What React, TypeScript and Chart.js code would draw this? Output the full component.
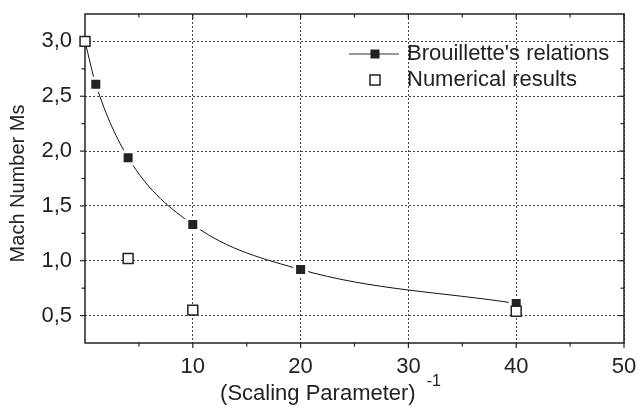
import React, { useEffect, useRef } from 'react';
import { Chart, registerables } from 'chart.js';

Chart.register(...registerables);

const brouilletteX = [0, 1, 4, 10, 20, 40];
const brouilletteY = [3.0, 2.61, 1.94, 1.33, 0.92, 0.61];
const numericalX = [0, 4, 10, 40];
const numericalY = [3.0, 1.02, 0.55, 0.54];

const xTickValues = [10, 20, 30, 40, 50];
const xMinorTickValues = [5, 15, 25, 35, 45];
const yTickValues = [0.5, 1.0, 1.5, 2.0, 2.5, 3.0];
const yMinorTickValues = [0.75, 1.25, 1.75, 2.25, 2.75];

const seriesNames = ["Brouillette's relations", 'Numerical results'];
const xTitle = '(Scaling Parameter)';
const xTitleSup = '-1';
const yTitle = 'Mach Number Ms';

const FONT = '"Liberation Sans", Arial, Helvetica, sans-serif';
const TEXT = '#222';
const AXIS = '#222';
const GRID = '#444';
const MARK = '#222';

const zeroPad = (s: any) => {
  s.paddingTop = 0;
  s.paddingBottom = 0;
  s.paddingLeft = 0;
  s.paddingRight = 0;
};

const framePlugin = {
  id: 'frame',
  beforeDatasetsDraw(chart: any) {
    const { ctx, chartArea: a, scales } = chart;
    const xs = scales.x;
    const ys = scales.y;
    ctx.save();
    ctx.strokeStyle = AXIS;
    ctx.lineWidth = 1.5;
    ctx.setLineDash([]);
    ctx.beginPath();
    ctx.rect(a.left, a.top, a.right - a.left, a.bottom - a.top);
    ctx.stroke();
    ctx.lineWidth = 1.2;
    const seg = (x1: number, y1: number, x2: number, y2: number) => {
      ctx.beginPath();
      ctx.moveTo(x1, y1);
      ctx.lineTo(x2, y2);
      ctx.stroke();
    };
    xTickValues.forEach((v) => {
      const p = xs.getPixelForValue(v);
      seg(p, a.bottom, p, a.bottom + 5);
      seg(p, a.top, p, a.top + 5);
    });
    xMinorTickValues.forEach((v) => {
      const p = xs.getPixelForValue(v);
      seg(p, a.bottom, p, a.bottom + 3.5);
      seg(p, a.top, p, a.top + 3.5);
    });
    yTickValues.forEach((v) => {
      const p = ys.getPixelForValue(v);
      seg(a.left - 5, p, a.left, p);
      seg(a.right - 5, p, a.right, p);
    });
    yMinorTickValues.forEach((v) => {
      const p = ys.getPixelForValue(v);
      seg(a.left - 3.5, p, a.left, p);
      seg(a.right - 3.5, p, a.right, p);
    });
    ctx.restore();
  },
  afterDraw(chart: any) {
    const { ctx, chartArea: a } = chart;
    ctx.save();
    // legend
    const lx = a.right - 249;
    const y1 = a.top + 40;
    const y2 = a.top + 66;
    ctx.strokeStyle = '#333';
    ctx.lineWidth = 1;
    ctx.beginPath();
    ctx.moveTo(a.right - 275, y1);
    ctx.lineTo(a.right - 225, y1);
    ctx.stroke();
    ctx.fillStyle = MARK;
    ctx.fillRect(lx - 4.5, y1 - 4.5, 9, 9);
    ctx.fillStyle = '#fff';
    ctx.fillRect(lx - 5, y2 - 5, 10, 10);
    ctx.strokeStyle = MARK;
    ctx.lineWidth = 1.5;
    ctx.strokeRect(lx - 5, y2 - 5, 10, 10);
    ctx.fillStyle = TEXT;
    ctx.font = `22px ${FONT}`;
    ctx.textAlign = 'left';
    ctx.textBaseline = 'middle';
    ctx.fillText(seriesNames[0], a.right - 217, y1);
    ctx.fillText(seriesNames[1], a.right - 217, y2);
    // x title with superscript
    ctx.textBaseline = 'alphabetic';
    ctx.font = `22px ${FONT}`;
    const w1 = ctx.measureText(xTitle).width;
    ctx.font = `16px ${FONT}`;
    const w2 = ctx.measureText(xTitleSup).width;
    const gap = 11;
    const total = w1 + gap + w2;
    const cx = (a.left + a.right) / 2 - 24;
    const sx = cx - total / 2;
    ctx.font = `22px ${FONT}`;
    ctx.fillText(xTitle, sx, a.bottom + 57);
    ctx.font = `16px ${FONT}`;
    ctx.fillText(xTitleSup, sx + w1 + gap, a.bottom + 43);
    // y title
    ctx.save();
    ctx.translate(18, (a.top + a.bottom) / 2 + 5);
    ctx.rotate(-Math.PI / 2);
    ctx.textAlign = 'center';
    ctx.textBaseline = 'middle';
    ctx.font = `20px ${FONT}`;
    ctx.fillText(yTitle, 0, 0);
    ctx.restore();
    ctx.restore();
  },
};

export default function App() {
  const ref = useRef<HTMLCanvasElement | null>(null);
  useEffect(() => {
    document.body.style.margin = '0';
    const canvas = ref.current;
    if (!canvas) return;
    const chart = new Chart(canvas, {
      type: 'line',
      data: {
        datasets: [
          {
            label: seriesNames[0],
            data: brouilletteX.map((x, i) => ({ x, y: brouilletteY[i] })),
            borderColor: '#111',
            borderWidth: 1,
            cubicInterpolationMode: 'monotone',
            pointStyle: 'rect',
            pointRadius: (c: any) => (c.dataIndex === 0 ? 0 : 8.5),
            pointBackgroundColor: MARK,
            pointBorderColor: '#fff',
            pointBorderWidth: 3,
            clip: false,
            order: 2,
          } as any,
          {
            label: seriesNames[1],
            data: numericalX.map((x, i) => ({ x, y: numericalY[i] })),
            showLine: false,
            pointStyle: 'rect',
            pointRadius: 7,
            pointBackgroundColor: '#fff',
            pointBorderColor: MARK,
            pointBorderWidth: 1.5,
            clip: false,
            order: 1,
          } as any,
        ],
      },
      options: {
        animation: false,
        responsive: true,
        maintainAspectRatio: false,
        layout: { padding: { left: 0, top: 14, right: 14, bottom: 0 } },
        plugins: {
          legend: { display: false },
          tooltip: { enabled: false },
        },
        scales: {
          x: {
            type: 'linear',
            min: 0,
            max: 50,
            afterBuildTicks: (s: any) => {
              s.ticks = xTickValues.map((v) => ({ value: v }));
            },
            afterFit: (s: any) => {
              s.height = 65;
              zeroPad(s);
            },
            ticks: {
              color: TEXT,
              font: { family: FONT, size: 22 },
              padding: 11,
              maxRotation: 0,
              autoSkip: false,
              callback: (v: any) => String(v),
            },
            grid: {
              color: GRID,
              lineWidth: 1,
              drawTicks: false,
            },
            border: { display: false, dash: [2, 2] },
          },
          y: {
            type: 'linear',
            min: 0.25,
            max: 3.25,
            afterBuildTicks: (s: any) => {
              s.ticks = yTickValues.map((v) => ({ value: v }));
            },
            afterFit: (s: any) => {
              s.width = 85;
              zeroPad(s);
            },
            ticks: {
              color: TEXT,
              font: { family: FONT, size: 22 },
              padding: 13,
              autoSkip: false,
              callback: (v: any) => Number(v).toFixed(1).replace('.', ','),
            },
            grid: {
              color: GRID,
              lineWidth: 1,
              drawTicks: false,
            },
            border: { display: false, dash: [2, 2] },
          },
        },
      } as any,
      plugins: [framePlugin],
    });
    return () => chart.destroy();
  }, []);
  return (
    <div style={{ position: 'absolute', left: 0, top: 0, width: 638, height: 408 }}>
      <canvas ref={ref} />
    </div>
  );
}
